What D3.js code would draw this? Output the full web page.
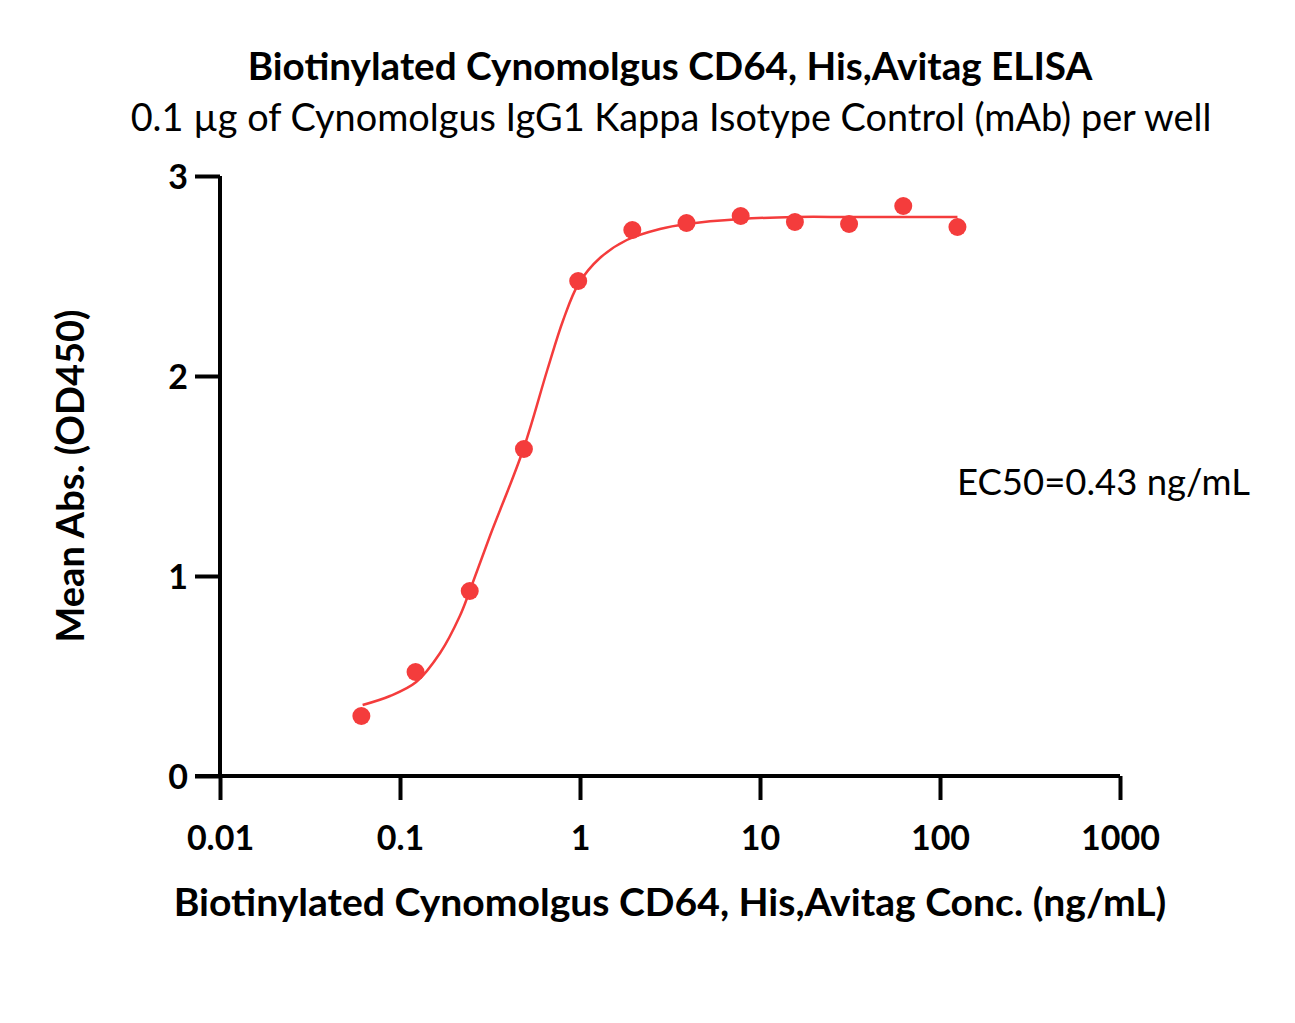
<!DOCTYPE html>
<html>
<head>
<meta charset="utf-8">
<script src="https://cdn.jsdelivr.net/npm/d3@7"></script>
<style>
  body { margin: 0; background: #fff; }
  text { font-family: Lato, "Open Sans", sans-serif; fill: #000; }
</style>
</head>
<body>
<script>
// measured points (ng/mL, OD450)
var conc = [0.061, 0.122, 0.244, 0.488, 0.977, 1.953, 3.906, 7.81, 15.63, 31.25, 62.5, 125];
var od = [0.30, 0.52, 0.925, 1.635, 2.475, 2.73, 2.765, 2.80, 2.77, 2.76, 2.85, 2.745];

// fitted curve
var fitX = [0.062, 0.088, 0.123, 0.167, 0.215, 0.245, 0.316, 0.485, 0.658, 0.807, 0.98, 1.29, 1.82, 2.78, 3.91, 7.8, 15.6, 31.25, 62.5, 125];
var fitY = [0.355, 0.40, 0.47, 0.615, 0.80, 0.93, 1.2, 1.635, 2.03, 2.28, 2.46, 2.59, 2.68, 2.735, 2.76, 2.785, 2.795, 2.795, 2.795, 2.795];

var xTicks = [0.01, 0.1, 1, 10, 100, 1000];
var xTickLabels = ["0.01", "0.1", "1", "10", "100", "1000"];
var yTicks = [0, 1, 2, 3];

var titleText = "Biotinylated Cynomolgus CD64, His,Avitag ELISA";
var subText = "0.1 \u00b5g of Cynomolgus IgG1 Kappa Isotype Control (mAb) per well";
var xLabel = "Biotinylated Cynomolgus CD64, His,Avitag Conc. (ng/mL)";
var yLabel = "Mean Abs. (OD450)";
var ec50Text = "EC50=0.43 ng/mL";

var red = "#f43c3c";

var svg = d3.select("body").append("svg")
  .attr("width", 1295)
  .attr("height", 1023);

var x = d3.scaleLog().domain([0.01, 1000]).range([220, 1120]);
var y = d3.scaleLinear().domain([0, 3]).range([776, 176]);

// scale the font so the text gets the width it has in the original
function fitWidth(t, w) {
  var fs = parseFloat(t.style("font-size"));
  var len = t.node().getComputedTextLength();
  t.style("font-size", (fs * w / len).toFixed(2) + "px");
  return t;
}

// titles
fitWidth(svg.append("text")
  .attr("x", 670).attr("y", 80)
  .attr("text-anchor", "middle")
  .style("font-size", "31px").style("font-weight", "bold")
  .text(titleText), 845);
fitWidth(svg.append("text")
  .attr("x", 671).attr("y", 131)
  .attr("text-anchor", "middle")
  .style("font-size", "31px")
  .text(subText), 1081);

// x axis
var xAxis = svg.append("g")
  .attr("transform", "translate(0,776)")
  .call(d3.axisBottom(x).tickValues(xTicks).tickSize(24).tickFormat(function (d, i) { return xTickLabels[i]; }));
xAxis.select(".domain").attr("d", "M195,0H1120").attr("stroke-width", 4).attr("stroke", "#000");
xAxis.selectAll(".tick line").attr("stroke-width", 4).attr("stroke", "#000");
xAxis.selectAll(".tick text")
  .attr("y", 74).attr("dy", null)
  .style("font-size", "34px").style("font-weight", "bold")
  .style("font-family", "Lato, sans-serif").attr("fill", "#000");

// y axis
var yAxis = svg.append("g")
  .attr("transform", "translate(220,0)")
  .call(d3.axisLeft(y).tickValues(yTicks).tickSize(25).tickFormat(d3.format("d")));
yAxis.select(".domain").attr("d", "M0,176V776").attr("stroke-width", 4).attr("stroke", "#000");
yAxis.selectAll(".tick line").attr("stroke-width", 4).attr("stroke", "#000");
yAxis.selectAll(".tick text")
  .attr("x", -32).attr("dy", "0.36em")
  .style("font-size", "34px").style("font-weight", "bold")
  .style("font-family", "Lato, sans-serif").attr("fill", "#000");

// axis labels
fitWidth(svg.append("text")
  .attr("x", 670).attr("y", 916)
  .attr("text-anchor", "middle")
  .style("font-size", "31px").style("font-weight", "bold")
  .text(xLabel), 993);
fitWidth(svg.append("text")
  .attr("transform", "translate(84,476) rotate(-90)")
  .attr("text-anchor", "middle")
  .style("font-size", "31px").style("font-weight", "bold")
  .text(yLabel), 333);

// fitted curve
var fit = fitX.map(function (d, i) { return [d, fitY[i]]; });
svg.append("path")
  .datum(fit)
  .attr("fill", "none")
  .attr("stroke", red)
  .attr("stroke-width", 2.5)
  .attr("d", d3.line()
    .x(function (d) { return x(d[0]); })
    .y(function (d) { return y(d[1]); })
    .curve(d3.curveCatmullRom.alpha(0.5)));

// points
svg.selectAll(".pt")
  .data(conc)
  .enter()
  .append("circle")
  .attr("class", "pt")
  .attr("cx", function (d) { return x(d); })
  .attr("cy", function (d, i) { return y(od[i]); })
  .attr("r", 9)
  .attr("fill", red);

fitWidth(svg.append("text")
  .attr("x", 957).attr("y", 495)
  .style("font-size", "29px")
  .text(ec50Text), 293);
</script>
</body>
</html>
